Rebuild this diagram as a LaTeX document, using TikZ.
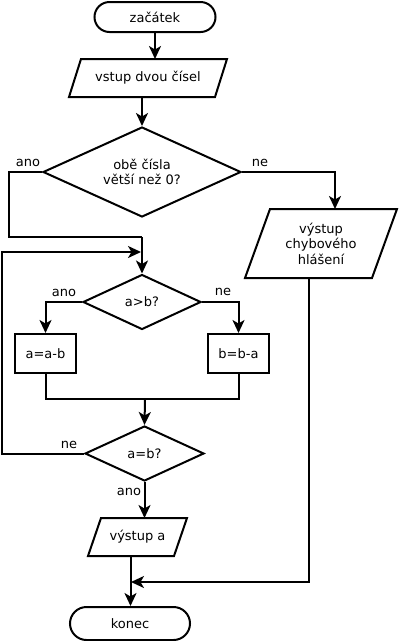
\documentclass[tikz,border=0pt]{standalone}
\usepackage{fontspec}
\setmainfont{DejaVu Sans}
\usetikzlibrary{shapes.geometric,arrows.meta,calc}
\begin{document}
\begin{tikzpicture}[x=1pt,y=-1pt,
  every node/.style={font=\fontsize{13}{15.5}\selectfont},
  base/.style={draw, line width=2pt, inner sep=0pt, align=center},
  term/.style={base, rectangle, minimum width=121pt},
  iotext/.style={rectangle, inner sep=0pt, outer sep=0pt, align=center},
  dec/.style={base, diamond, aspect=2.2},
  proc/.style={base, rectangle, minimum width=61pt, minimum height=39pt},
  lbl/.style={inner sep=0pt},
  flow/.style={line width=2pt, -{Stealth[length=13pt,width=12pt,inset=3.5pt]}},
  plain/.style={line width=2pt},
  para/.style={line width=2pt, line join=miter}
]
\useasboundingbox (0,0) rectangle (400,641);

\node[term, minimum height=30pt, rounded corners=15pt] (start) at (155,17) {začátek};

\node[iotext, minimum width=158pt, minimum height=38pt] (in1) at (148,78) {vstup dvou čísel};
\draw[para] ($(in1.north west)+(12,0)$) -- (in1.north east) -- ($(in1.south east)-(12,0)$) -- (in1.south west) -- cycle;
\coordinate (in1t) at ($(in1.north)+(6,0)$);
\coordinate (in1b) at ($(in1.south)-(6,0)$);

\node[dec, minimum width=198pt, minimum height=90pt] (d1) at (142,172) {obě čísla\\větší než 0?};

\node[iotext, minimum width=152pt, minimum height=69pt] (err) at (321,243.5) {výstup\\chybového\\hlášení};
\draw[para] ($(err.north west)+(25,0)$) -- (err.north east) -- ($(err.south east)-(25,0)$) -- (err.south west) -- cycle;
\coordinate (errt) at ($(err.north)+(14,0)$);
\coordinate (errb) at ($(err.south)-(12,0)$);

\node[dec, minimum width=118pt, minimum height=55pt] (d2) at (142,302) {a>b?};
\node[proc] (b1) at (45.5,353.5) {a=a-b};
\node[proc] (b2) at (238.5,353.5) {b=b-a};
\node[dec, minimum width=119pt, minimum height=55pt] (d3) at (144.5,453.5) {a=b?};

\node[iotext, minimum width=99pt, minimum height=38pt] (out) at (137.5,537) {výstup a};
\draw[para] ($(out.north west)+(13,0)$) -- (out.north east) -- ($(out.south east)-(13,0)$) -- (out.south west) -- cycle;
\coordinate (outt) at ($(out.north)+(6.5,0)$);
\coordinate (outb) at ($(out.south)-(7,0)$);

\node[term, minimum height=33pt, rounded corners=16.5pt, minimum width=120pt] (end) at (130,623.5) {konec};

\node[lbl] at (28,163) {ano};
\node[lbl] at (260,163) {ne};
\node[lbl] at (64,293) {ano};
\node[lbl] at (223,292) {ne};
\node[lbl] at (69,445) {ne};
\node[lbl] at (129,492) {ano};

\coordinate (c1) at (9,237);
\coordinate (j1) at (142,237);
\coordinate (c2) at (2,252);
\coordinate (j2) at (141,252);
\coordinate (j3) at (145,399);
\coordinate (j4) at (131,582);

\draw[flow] (start.south) -- (start.south |- in1t);
\draw[flow] (in1b) -- (d1.north);
\draw[plain] (d1.west) -| (c1) -- (j1);
\draw[flow] (j1) -- (d2.north);
\draw[flow] (d1.east) -| (errt);
\draw[flow] (d2.west) -| (b1.north);
\draw[flow] (d2.east) -| (b2.north);
\draw[plain] (b1.south) |- (j3) -| (b2.south);
\draw[flow] (j3) -- (d3.north);
\draw[flow] (d3.west) -| (c2) -- (j2);
\draw[flow] (d3.south) -- (d3.south |- outt);
\draw[flow] (outb) -- (outb |- end.north);
\draw[flow] (errb) |- (j4);
\end{tikzpicture}
\end{document}
